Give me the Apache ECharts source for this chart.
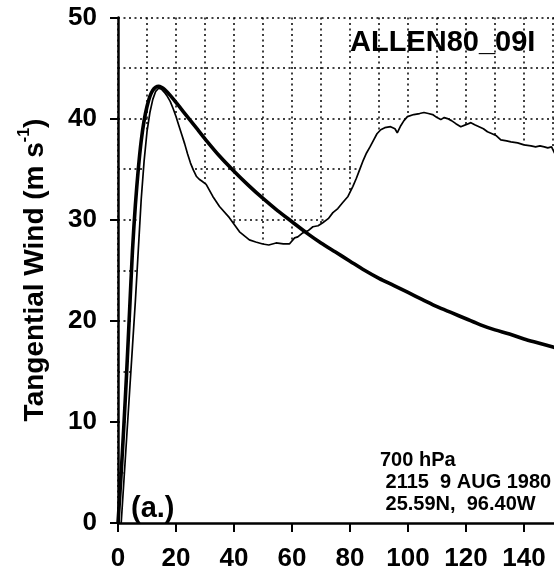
<!DOCTYPE html>
<html>
<head>
<meta charset="utf-8">
<script src="https://cdn.jsdelivr.net/npm/echarts@6/dist/echarts.min.js"></script>
<style>
html,body{margin:0;padding:0;background:#fff;}
#c{width:554px;height:575px;}
</style>
</head>
<body>
<div id="c"></div>
<script>
// Observed (flight-level) tangential wind profile
const obsRadius = [1.1,2,3,4,5,6,7,8,9,10,11,12,13,14,15,16,17,18,19,20,21,22,23,24,25,26,27,28,29,30.4,32.7,35,38.4,41.9,45.3,47.5,49.9,52,54.5,57,59.1,60.9,62,63.7,65.5,67.2,69,70.6,72.5,74.1,75.8,77.5,79.3,81,82.2,83.4,84.6,85.7,86.9,88,89.3,90.6,92,94,95.5,96.3,97.5,98.6,99.8,102,104,105.5,107,108.5,110,111.3,112.5,113.6,115,116.5,118.2,120,121.7,123,124.5,126,127.4,129,130.5,132,134,135.5,137.8,140,142.4,144,145.5,147,148.2,149.5,150.5,152];
const obsWind   = [0,4,8.5,13,17.5,22,27,32,35.8,38.7,40.6,41.9,42.7,43,42.9,42.6,42.2,41.7,41,40.2,39.3,38.4,37.5,36.5,35.6,34.9,34.3,34,33.8,33.5,32.3,31.3,30.2,28.8,28,27.8,27.6,27.5,27.7,27.6,27.6,28.2,28.3,28.7,28.9,29.3,29.4,29.7,30.1,30.7,31.1,31.7,32.3,33.3,34.1,35,35.9,36.6,37.2,37.8,38.5,38.9,39.1,39.2,39.0,38.6,39.3,39.8,40.2,40.4,40.5,40.6,40.5,40.4,40.1,39.9,40.1,40.0,39.8,39.5,39.2,39.4,39.6,39.4,39.2,39.0,38.7,38.5,38.3,37.9,37.8,37.7,37.6,37.4,37.3,37.2,37.3,37.2,37.1,37.2,36.6,36.4];
// Model (fitted) tangential wind profile
const modRadius = [0,1,2,3,4,5,6,7,8,9,10,11,12,13,14,15,16,18,20,22.5,25,27.5,30,35,40,45,50,55,60,65,70,75,80,85,90,95,100,105,110,115,120,125,130,135,140,145,150,155];
const modWind   = [0,4.5,9.5,15,21,27,31.5,35,37.8,39.8,41.2,42.2,42.8,43.1,43.2,43.1,42.9,42.3,41.6,40.7,39.8,38.9,38.0,36.3,34.8,33.4,32.1,30.9,29.8,28.7,27.7,26.8,25.9,25.0,24.2,23.5,22.8,22.1,21.4,20.8,20.2,19.6,19.1,18.7,18.2,17.8,17.4,17.0];
// Axis ticks
const xMin = 0, xMax = 160, xLabelStep = 20, xGridStep = 10;
const yMin = 0, yMax = 50, yLabelStep = 10, yGridStep = 5;
// Texts
const titleText = 'ALLEN80_09I';
const panelText = '(a.)';
const infoLines = ['700 hPa', ' 2115  9 AUG 1980', ' 25.59N,  96.40W'];

const FONT = '"Liberation Sans", Arial, Helvetica, sans-serif';
const obsData = obsRadius.map((r, i) => [r, obsWind[i]]);
const modData = modRadius.map((r, i) => [r, modWind[i]]);

const chart = echarts.init(document.getElementById('c'), null, {renderer: 'canvas'});
const dotted = {type: [2, 3.5], color: '#000', width: 1.5};

chart.setOption({
  backgroundColor: '#fff',
  animation: false,
  grid: {left: 118, top: 17.5, width: 464, height: 505.5, containLabel: false, outerBoundsMode: 'none'},
  xAxis: [
    {type: 'value', min: xMin, max: xMax, interval: xGridStep, z: 0,
     axisLine: {show: false}, axisTick: {show: false}, axisLabel: {show: false},
     splitLine: {show: true, lineStyle: dotted}},
    {type: 'value', min: xMin, max: xMax, interval: xLabelStep, position: 'bottom', z: 10,
     axisLine: {show: true, onZero: false, lineStyle: {color: '#000', width: 2.5}},
     axisTick: {show: true, inside: false, length: 9, lineStyle: {color: '#000', width: 2}},
     axisLabel: {show: true, margin: 23, color: '#000', fontFamily: FONT, fontWeight: 'bold', fontSize: 26},
     splitLine: {show: false}}
  ],
  yAxis: [
    {type: 'value', min: yMin, max: yMax, interval: yGridStep, z: 0,
     axisLine: {show: false}, axisTick: {show: false}, axisLabel: {show: false},
     splitLine: {show: true, lineStyle: dotted}},
    {type: 'value', min: yMin, max: yMax, interval: yLabelStep, position: 'left', z: 10,
     axisLine: {show: true, onZero: false, lineStyle: {color: '#000', width: 2.5}},
     axisTick: {show: true, inside: false, length: 8, lineStyle: {color: '#000', width: 2}},
     axisLabel: {show: true, margin: 21, color: '#000', fontFamily: FONT, fontWeight: 'bold', fontSize: 26},
     splitLine: {show: false}}
  ],
  series: [
    {type: 'line', name: 'observed', xAxisIndex: 0, yAxisIndex: 0, data: obsData,
     showSymbol: false, symbol: 'none', z: 2,
     lineStyle: {color: '#000', width: 1.7},
     areaStyle: {color: '#fff', opacity: 1}},
    {type: 'line', name: 'model', xAxisIndex: 0, yAxisIndex: 0, data: modData,
     showSymbol: false, symbol: 'none', z: 3, smooth: 0.3,
     lineStyle: {color: '#000', width: 3.6}}
  ],
  graphic: [
    {type: 'text', z: 100, x: 350, y: 57,
     style: {text: titleText, font: 'bold 29px ' + FONT, fill: '#000', verticalAlign: 'bottom', align: 'left'}},
    {type: 'text', z: 100, x: 131, y: 523,
     style: {text: panelText, font: 'bold 29px ' + FONT, fill: '#000', verticalAlign: 'bottom', align: 'left'}},
    {type: 'text', z: 100, x: 380, y: 470,
     style: {text: infoLines[0], font: 'bold 20px ' + FONT, fill: '#000', verticalAlign: 'bottom', align: 'left'}},
    {type: 'text', z: 100, x: 380, y: 492,
     style: {text: infoLines[1], font: 'bold 20px ' + FONT, fill: '#000', verticalAlign: 'bottom', align: 'left'}},
    {type: 'text', z: 100, x: 380, y: 514,
     style: {text: infoLines[2], font: 'bold 20px ' + FONT, fill: '#000', verticalAlign: 'bottom', align: 'left'}},
    {type: 'text', z: 100, x: 33, y: 270, rotation: Math.PI / 2,
     style: {text: '{a|Tangential Wind (m s}{s|-1}{a|)}', fill: '#000', align: 'center', verticalAlign: 'middle',
       rich: {
         a: {fontFamily: FONT, fontWeight: 'bold', fontSize: 28, lineHeight: 32, verticalAlign: 'bottom'},
         s: {fontFamily: FONT, fontWeight: 'bold', fontSize: 16, lineHeight: 32, verticalAlign: 'top'}
       }}}
  ]
});
</script>
</body>
</html>
